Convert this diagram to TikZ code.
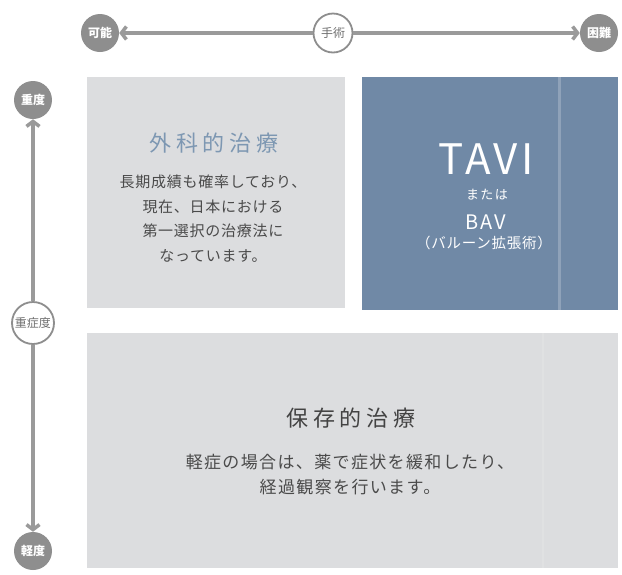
\documentclass[tikz,border=0pt]{standalone}
\usepackage{fontspec}
\setmainfont{Noto Sans CJK JP}
\newfontfamily\titlefont[LetterSpace=21]{Noto Sans CJK JP}
\newfontfamily\bodyfont[LetterSpace=5]{Noto Sans CJK JP}
\newfontfamily\bodywidefont[LetterSpace=8]{Noto Sans CJK JP}
\newfontfamily\latinfont[LetterSpace=8]{Noto Sans CJK JP}
\newfontfamily\smallfont[LetterSpace=10]{Noto Sans CJK JP}
\usetikzlibrary{arrows.meta}
\definecolor{boxgray}{HTML}{DCDDDF}
\definecolor{boxblue}{HTML}{7089A6}
\definecolor{circgray}{HTML}{8E8E8E}
\definecolor{linegray}{HTML}{9A9A9A}
\definecolor{txtgray}{HTML}{4A4A4A}
\definecolor{titleblue}{HTML}{7D97B2}
\begin{document}
\begin{tikzpicture}[x=1pt,y=-1pt,
  gcirc/.style={circle,fill=circgray,text=white,minimum size=38pt,inner sep=0pt,
    font=\fontsize{12}{12}\selectfont\bfseries},
  wcirc/.style={circle,draw=circgray,line width=1.8pt,fill=white,text=txtgray!80,
    minimum size=39pt,inner sep=0pt,font=\fontsize{12}{12}\selectfont},
  conn/.style={draw=linegray,line width=3.5pt,-{Straight Barb[length=5pt,width=13pt]}},
  graybox/.style={fill=boxgray,inner sep=0pt},
  bluebox/.style={fill=boxblue,inner sep=0pt},
  title/.style={font=\titlefont\fontsize{22}{24}\selectfont},
  body/.style={text=txtgray,align=center},
]
\useasboundingbox[fill=white] (0,0) rectangle (622,574);
% boxes
\node[graybox,minimum width=258pt,minimum height=231pt] (surg) at (216,192.5) {};
\node[bluebox,minimum width=256pt,minimum height=233pt] (tavi) at (490,193.5) {};
\fill[white,opacity=0.22] (558,77) rectangle (561,310);
\node[graybox,minimum width=531pt,minimum height=235pt] (cons) at (352.5,450.5) {};
\fill[white,opacity=0.12] (542,333) rectangle (544,568);
% top axis
\node[gcirc] (pos) at (100,33) {可能};
\node[wcirc] (op) at (333,33) {手術};
\node[gcirc] (hard) at (599,33) {困難};
\draw[conn] (op) -- (pos);
\draw[conn] (op) -- (hard);
% left axis
\node[gcirc] (sev) at (33,100) {重度};
\node[wcirc,minimum size=42pt] (deg) at (33,323) {重症度};
\node[gcirc] (mild) at (33,551) {軽度};
\draw[conn] (deg) -- (sev);
\draw[conn] (deg) -- (mild);
% texts
\node[title,text=titleblue] (st) at (214,143) {外科的治療};
\node[body,font=\bodyfont\fontsize{15}{24.5}\selectfont] (sb) at (213,218.5) {長期成績も確率しており、\\現在、日本における\\第一選択の治療法に\\なっています。};
\node[font=\latinfont\fontsize{42}{44}\selectfont,text=white] (tv) at (486,159) {TAVI};
\node[font=\smallfont\fontsize{13}{14}\selectfont,text=white] (or) at (487,195) {または};
\node[font=\smallfont\fontsize{20}{22}\selectfont,text=white] (bav) at (486,222) {BAV};
\node[font=\bodyfont\fontsize{14.5}{15}\selectfont,text=white] (bal) at (484,243) {（バルーン拡張術）};
\node[title,text=txtgray!90!black] (ct) at (351,418) {保存的治療};
\node[body,font=\bodywidefont\fontsize{17}{25}\selectfont] (cb) at (350,474.5) {軽症の場合は、薬で症状を緩和したり、\\経過観察を行います。};
\end{tikzpicture}
\end{document}
